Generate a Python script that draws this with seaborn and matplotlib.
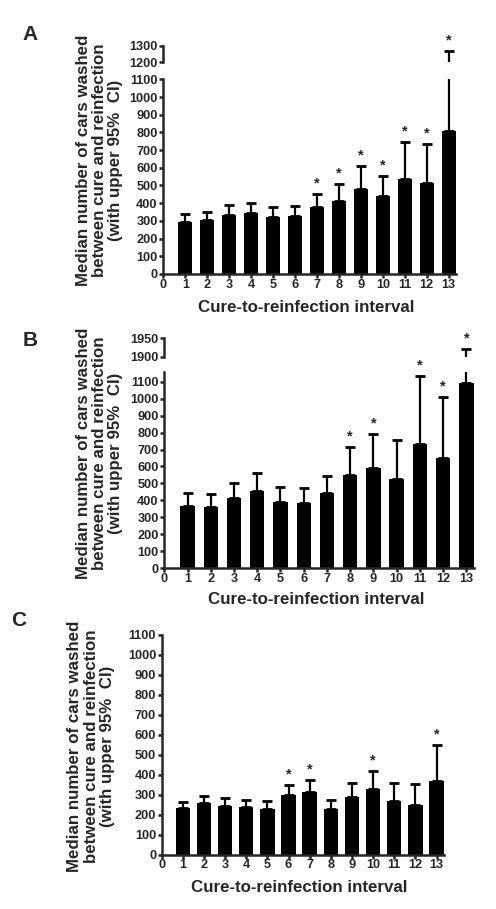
import numpy as np
import pandas as pd
import matplotlib
matplotlib.use("Agg")
import matplotlib.pyplot as plt
import seaborn as sns

# cure-to-reinfection intervals
intervals = list(range(1, 14))

# Panel A: medians and upper 95% CI
a_median = [296, 303, 333, 343, 322, 330, 378, 414, 480, 443, 535, 514, 808]
a_upper = [341, 350, 388, 403, 377, 386, 450, 510, 610, 554, 744, 733, 1268]
a_star = [7, 8, 9, 10, 11, 12, 13]

# Panel B
b_median = [370, 364, 415, 455, 393, 385, 442, 549, 593, 527, 733, 652, 1091]
b_upper = [445, 439, 504, 563, 480, 476, 545, 713, 790, 756, 1134, 1008, 1920]
b_star = [8, 9, 11, 12, 13]

# Panel C
c_median = [233, 257, 242, 237, 230, 297, 312, 227, 287, 328, 270, 247, 367]
c_upper = [263, 292, 282, 272, 267, 350, 373, 272, 360, 417, 360, 352, 550]
c_star = [6, 7, 10, 13]

ylabel = "Median number of cars washed\nbetween cure and reinfection\n(with upper 95%  CI)"
xlabel = "Cure-to-reinfection interval"

sns.set_style("ticks")
plt.rcParams["font.family"] = ["Liberation Sans", "DejaVu Sans"]
plt.rcParams["font.weight"] = "bold"

W, H = 496, 909
fig = plt.figure(figsize=(W / 100, H / 100), dpi=100)
TICK_FS = 9.2


def rect(x0, x1, ytop, ybot):
    return [x0 / W, 1 - ybot / H, (x1 - x0) / W, (ybot - ytop) / H]


def style_axis(ax, bottom=True):
    sns.despine(ax=ax, bottom=not bottom)
    ax.spines["left"].set_linewidth(1.8)
    ax.spines["bottom"].set_linewidth(1.8)
    ax.tick_params(axis="y", direction="out", length=3, width=1.8, pad=1)
    if bottom:
        ax.tick_params(axis="x", direction="out", length=3, width=1.8, pad=0.5)
    else:
        ax.tick_params(axis="x", bottom=False, labelbottom=False)
    ax.set_xlabel("")
    ax.set_ylabel("")
    ax.patch.set_alpha(0)


def bars_and_errors(ax, med, upp, width):
    df = pd.DataFrame({"interval": intervals, "median": med})
    sns.barplot(data=df, x="interval", y="median", native_scale=True,
                width=width, color="black", saturation=1, errorbar=None,
                linewidth=0, ax=ax, zorder=2)
    err = [np.zeros(len(med)), np.array(upp) - np.array(med)]
    ax.errorbar(intervals, med, yerr=err, fmt="none", ecolor="black",
                elinewidth=1.6, capsize=3.4, capthick=2.0, zorder=1)
    ax.set_xlim(0, 13 + width / 2)


def draw_bars(ax, med, upp, ylim, yticks, width):
    bars_and_errors(ax, med, upp, width)
    ax.set_ylim(*ylim)
    ax.set_xticks(range(0, 14))
    ax.set_xticklabels([str(i) for i in range(0, 14)], fontsize=TICK_FS,
                       fontweight="bold")
    ax.set_yticks(yticks)
    ax.set_yticklabels([str(t) for t in yticks], fontsize=TICK_FS,
                       fontweight="bold")
    style_axis(ax)


def draw_top(ax, med, upp, ylim, yticks, width):
    bars_and_errors(ax, med, upp, width)
    ax.set_ylim(*ylim)
    ax.set_yticks(yticks)
    ax.set_yticklabels([str(t) for t in yticks], fontsize=TICK_FS,
                       fontweight="bold")
    style_axis(ax, bottom=False)


def add_stars(ax_low, ax_high, upp, stars, low_top):
    for s in stars:
        val = upp[s - 1]
        ax = ax_low if (ax_high is None or val <= low_top) else ax_high
        ax.annotate("*", xy=(s, val), xytext=(0, 7.5), textcoords="offset points",
                    ha="center", va="center", fontsize=10.5, fontweight="bold",
                    annotation_clip=False)


# ---- Panel A ----
axA = fig.add_axes(rect(163.3, 455.5, 79.3, 274))
axA2 = fig.add_axes(rect(163.3, 455.5, 45.7, 62.3))
draw_bars(axA, a_median, a_upper, (0, 1100), list(range(0, 1101, 100)), 0.62)
draw_top(axA2, a_median, a_upper, (1200, 1300), [1200, 1300], 0.62)
add_stars(axA, axA2, a_upper, a_star, 1100)

# ---- Panel B ----
axB = fig.add_axes(rect(164.3, 473.6, 372.3, 568.3))
axB2 = fig.add_axes(rect(164.3, 473.6, 338.3, 356.7))
draw_bars(axB, b_median, b_upper, (0, 1155), list(range(0, 1101, 100)), 0.62)
draw_top(axB2, b_median, b_upper, (1900, 1950), [1900, 1950], 0.62)
add_stars(axB, axB2, b_upper, b_star, 1155)

# ---- Panel C ----
axC = fig.add_axes(rect(161.7, 443.7, 634.5, 854.5))
draw_bars(axC, c_median, c_upper, (0, 1100), list(range(0, 1101, 100)), 0.68)
add_stars(axC, None, c_upper, c_star, 1100)

# labels
for (x, y) in [(99.5, 160), (99.5, 453), (91, 746)]:
    fig.text(x / W, 1 - y / H, ylabel, rotation=90, ha="center", va="center",
             fontsize=12.2, fontweight="bold", linespacing=1.1,
             multialignment="center")
for (x, y) in [(306, 307), (316, 600), (299, 887.5)]:
    fig.text(x / W, 1 - y / H, xlabel, ha="center", va="center",
             fontsize=12.2, fontweight="bold")
for (x, y, t) in [(30, 34, "A"), (30, 341, "B"), (19, 620, "C")]:
    fig.text(x / W, 1 - y / H, t, ha="center", va="center",
             fontsize=15, fontweight="bold")

fig.savefig("out.png", dpi=100)
plt.close(fig)
